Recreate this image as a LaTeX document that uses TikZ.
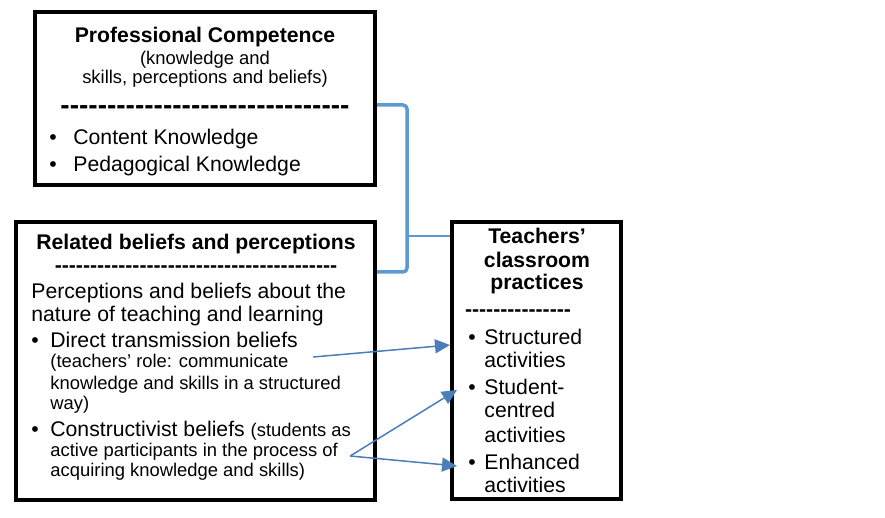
\documentclass[tikz,border=0pt]{standalone}
\usepackage{fontspec}
\setmainfont{Liberation Sans}
\usetikzlibrary{arrows.meta}
\definecolor{bracketblue}{HTML}{5B9BD5}
\definecolor{arrowblue}{HTML}{4A7EBB}
\newcommand\dashline[1]{\foreach \i in {1,...,#1}{-}}
\tikzset{
  box/.style={draw, line width=2pt, inner sep=0pt},
  txt/.style={inner sep=0pt, font=\fontsize{10.6}{12.7}\selectfont},
  head/.style={txt, font=\bfseries\fontsize{10.6}{12.7}\selectfont},
  note/.style={inner sep=0pt, font=\fontsize{9.2}{11}\selectfont},
  arr/.style={-{Triangle[length=7.5pt,width=7pt]}, arrowblue, line width=0.75pt},
  brace/.style={bracketblue, line width=1.75pt, rounded corners=2pt}
}
\begin{document}
\begin{tikzpicture}[x=0.5pt,y=-0.5pt]
  \useasboundingbox (0,0) rectangle (885,518);
  % Boxes
  \node[box, minimum width=170pt, minimum height=86.5pt] (comp) at (205,98.5) {};
  \node[box, minimum width=179.5pt, minimum height=139pt] (belief) at (195.5,361) {};
  \node[box, minimum width=84.5pt, minimum height=138.5pt] (prac) at (536.5,360.5) {};
  % Professional competence
  \node[head, anchor=base] (comptitle) at (205,43) {Professional Competence};
  \node[note, anchor=base] (compnote1) at (205,65) {(knowledge and};
  \node[note, anchor=base] (compnote2) at (205,84) {skills, perceptions and beliefs)};
  \node[inner sep=0pt, font=\bfseries\fontsize{14}{16}\selectfont, anchor=base] (comprule) at (205,115) {\dashline{31}};
  \foreach \y/\t/\n in {145/Content Knowledge/1, 172/Pedagogical Knowledge/2} {
    \node[txt, anchor=base] (compdot\n) at (53,\y) {\textbullet};
    \node[txt, anchor=base west] (compitem\n) at (73,\y) {\t};
  }
  % Related beliefs
  \node[head, anchor=base] (belieftitle) at (196,250) {Related beliefs and perceptions};
  \node[head, anchor=base] (beliefrule) at (196,273) {\dashline{40}};
  \node[txt, anchor=base west] (intro1) at (31,299) {Perceptions and beliefs about the};
  \node[txt, anchor=base west] (intro2) at (31,322) {nature of teaching and learning};
  \foreach \y/\n in {348/1, 437/2} {
    \node[txt, anchor=base] (beliefdot\n) at (35,\y) {\textbullet};
  }
  \node[txt, anchor=base west] (dtb) at (50,348) {Direct transmission beliefs};
  \node[note, anchor=base west] (dtb1) at (50,368) {(teachers’ role: communicate};
  \node[note, anchor=base west] (dtb2) at (50,390) {knowledge and skills in a structured};
  \node[note, anchor=base west] (dtb3) at (50,410) {way)};
  \node[txt, anchor=base west] (con) at (50,437) {Constructivist beliefs {\fontsize{9.2}{11}\selectfont (students as}};
  \node[note, anchor=base west] (con1) at (50,457) {active participants in the process of};
  \node[note, anchor=base west] (con2) at (50,477) {acquiring knowledge and skills)};
  % Teachers' practices
  \foreach \y/\t/\n in {244/Teachers’/1, 268/classroom/2, 290/practices/3} {
    \node[head, anchor=base] (practitle\n) at (537,\y) {\t};
  }
  \node[head, anchor=base] (pracrule) at (518,317) {\dashline{15}};
  \foreach \y/\n in {345/1, 395/3, 470/6} {
    \node[txt, anchor=base] (pracdot\n) at (472,\y) {\textbullet};
  }
  \foreach \y/\t/\n in {345/Structured/1, 368/activities/2, 395/Student-/3, 418/centred/4, 443/activities/5, 470/Enhanced/6, 493/activities/7} {
    \node[txt, anchor=base west] (pracitem\n) at (484,\y) {\t};
  }
  % Bracket
  \draw[brace] ([yshift=-3.25pt]comp.east) -- ++(15pt,0) coordinate (brx) |- ([yshift=44.5pt]belief.east);
  \draw[bracketblue, line width=1pt] ([yshift=62.25pt]prac.west) coordinate (brm) -- (brm -| brx);
  % Arrows
  \coordinate (t1) at (prac.west |- pracitem1.base);
  \coordinate (t3) at (prac.west |- pracitem3.base);
  \coordinate (t6) at (prac.west |- pracitem6.base);
  \draw[arr] ([xshift=7.5pt,yshift=-4.5pt]dtb.base east) -- (t1);
  \draw[arr] ([xshift=6pt,yshift=0.5pt]con1.base east) -- ([xshift=3.5pt,yshift=2.5pt]t3);
  \draw[arr] ([xshift=6pt,yshift=0.5pt]con1.base east) -- ([xshift=3.5pt,yshift=2pt]t6);
\end{tikzpicture}
\end{document}
